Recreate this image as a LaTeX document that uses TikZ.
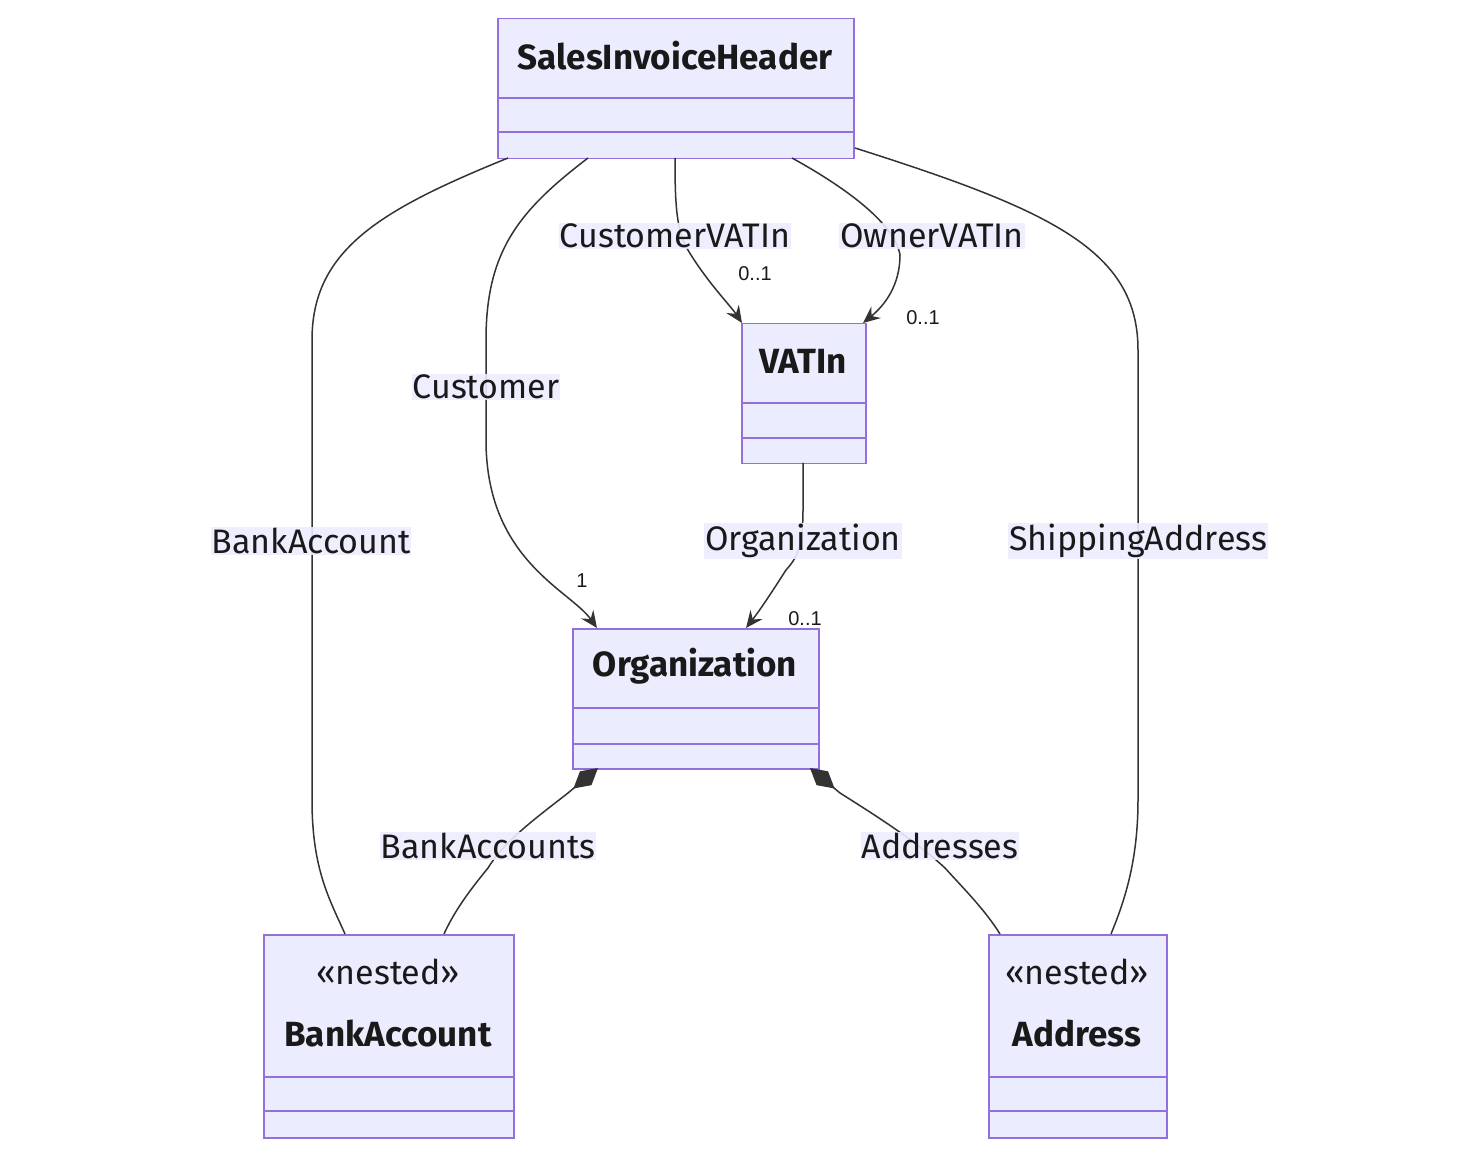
\documentclass[tikz,border=0pt]{standalone}
\usepackage{fontspec}
\setmainfont{Fira Sans}
\newfontfamily\multfont{Liberation Sans}
\usetikzlibrary{arrows.meta}
\definecolor{bfill}{HTML}{ECECFF}
\definecolor{bline}{HTML}{9370DB}
\definecolor{eline}{HTML}{333333}
\begin{document}
\begin{tikzpicture}[x=1pt,y=-1pt,
  box/.style={draw=bline,fill=bfill,line width=1.5pt,rectangle,inner sep=0},
  title/.style={font=\fontsize{35}{40}\selectfont\bfseries,text=black!90},
  stereo/.style={font=\fontsize{34}{40}\selectfont,text=black!90},
  lbl/.style={fill=bfill,opacity=0.9,text opacity=1,font=\fontsize{34}{40}\selectfont,inner sep=1pt,text=black!90},
  mult/.style={font=\multfont\fontsize{20}{24}\selectfont,text=black!90},
  edge/.style={draw=eline,line width=1.5pt},
  dep/.style={edge,-{Stealth[length=17pt,width=15pt,inset=6pt]}},
  comp/.style={edge,{Diamond[length=32pt,width=18pt]}-}]
\useasboundingbox (0,0) rectangle (1476,1155);
\newcommand\umlbox[7]{%
  \node[box,minimum width=#4-#2,minimum height=#5-#3,anchor=north west] (#1) at (#2,#3) {};
  \draw[bline,line width=1.5pt] (#2,#6) -- (#4,#6) (#2,#7) -- (#4,#7);}
\umlbox{sih}{497}{18}{853}{158}{98}{132}
\node[title] (tsih) at (675,56) {SalesInvoiceHeader};
\umlbox{vat}{741}{323}{865}{463}{403}{438}
\node[title] (tvat) at (803,361) {VATIn};
\umlbox{org}{572}{628}{818}{768}{708}{744}
\node[title] (torg) at (695,666) {Organization};
\umlbox{ba}{263}{934}{513}{1137}{1077}{1111}
\node[stereo] (sba) at (388,972) {«nested»};
\node[title] (tba) at (388,1034) {BankAccount};
\umlbox{ad}{988}{934}{1166}{1137}{1077}{1111}
\node[stereo] (sad) at (1077,972) {«nested»};
\node[title] (tad) at (1077,1034) {Address};

% BankAccount
\draw[edge] (508,158) .. controls (380,210) and (312,250) .. (312,340)
  -- (312,800) .. controls (312,870) and (330,900) .. (345,934);
\node[lbl] (l1) at (311,541) {BankAccount};
% Customer
\draw[dep] (588,158) .. controls (520,210) and (486,250) .. (486,340)
  -- (486,440) .. controls (486,560) and (570,590) .. (597,628);
\node[lbl] (l2) at (486,387) {Customer};
\node[mult] (m2) at (582,581) {1};
% CustomerVATIn
\draw[dep] (675,158) .. controls (675,200) and (676,225) .. (685,245)
  .. controls (705,280) and (730,305) .. (742,323);
\node[lbl] (l3) at (675,236) {CustomerVATIn};
\node[mult] (m3) at (755,274) {0..1};
% OwnerVATIn
\draw[dep] (792,158) .. controls (850,190) and (895,225) .. (900,255)
  .. controls (900,285) and (885,305) .. (863,323);
\node[lbl] (l4) at (932,236) {OwnerVATIn};
\node[mult] (m4) at (923,318) {0..1};
% ShippingAddress
\draw[edge] (855,148) .. controls (1050,210) and (1138,250) .. (1138,350)
  -- (1138,800) .. controls (1138,860) and (1125,900) .. (1111,934);
\node[lbl] (l5) at (1138,541) {ShippingAddress};
% Organization from VATIn
\draw[dep] (803,463) -- (803,510) .. controls (803,550) and (795,560) .. (786,570)
  .. controls (770,595) and (760,610) .. (746,628);
\node[lbl] (l6) at (803,541) {Organization};
\node[mult] (m6) at (805,619) {0..1};
% BankAccounts
\draw[comp] (598,768) -- (568,793) .. controls (540,815) and (505,840) .. (488,868)
  .. controls (470,890) and (455,910) .. (444,934);
\node[lbl] (l7) at (488,846) {BankAccounts};
% Addresses
\draw[comp] (810,768) -- (840,793) .. controls (870,812) and (915,840) .. (945,868)
  .. controls (965,890) and (985,910) .. (1000,934);
\node[lbl] (l8) at (940,846) {Addresses};
\end{tikzpicture}
\end{document}
